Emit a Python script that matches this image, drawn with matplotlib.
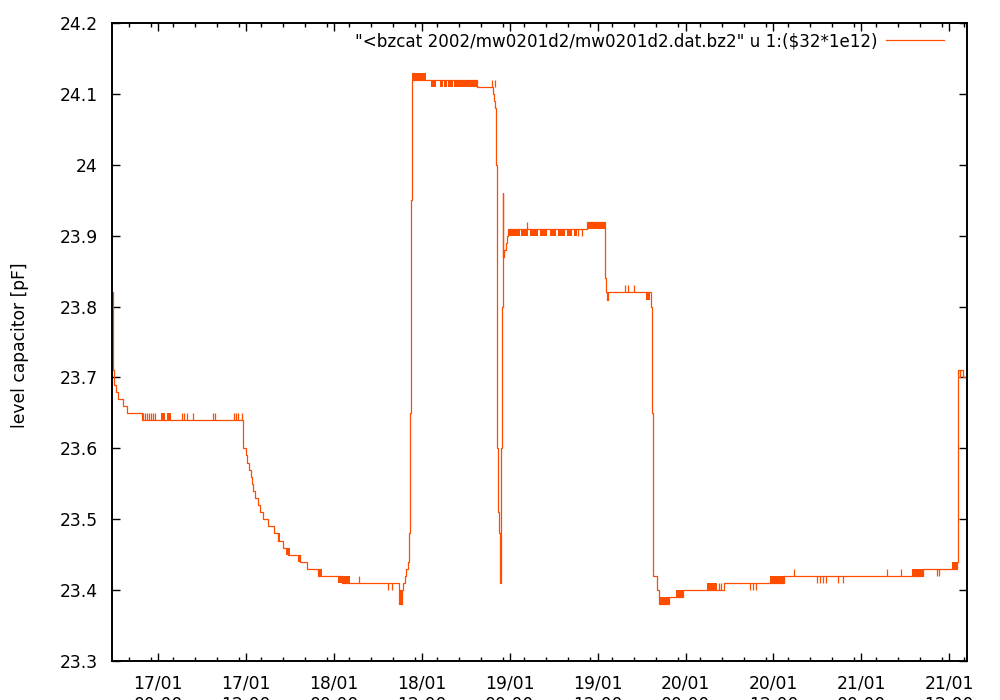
import matplotlib
matplotlib.use("Agg")
import matplotlib.pyplot as plt
import matplotlib.dates as mdates
from matplotlib.ticker import MultipleLocator, FuncFormatter
import numpy as np
import pandas as pd

# --- data: hours since 17/01/2002 00:00, level capacitor in pF ---
# main trace (value holds until the next time stamp)
trace_h = [-6.36, -6.17, -6.10, -5.78, -5.50, -4.82, -4.27, -2.23,
           11.61, 11.97, 12.11, 12.38, 12.62, 12.75, 12.97, 13.20, 13.57,
           13.89, 14.34, 14.94, 15.84, 16.38, 17.07, 17.75, 19.35, 20.26,
           21.85, 25.04,
           32.93, 33.32, 33.48, 33.62, 33.82, 34.05, 34.23, 34.33, 34.41,
           34.48, 34.54, 34.61, 34.68,
           43.52, 45.74, 45.90, 46.04, 46.15, 46.21, 46.27, 46.34, 46.52,
           46.72, 46.86, 46.96, 47.03, 47.11, 47.27, 47.41, 47.61, 47.75,
           58.53, 61.06, 61.13, 61.31, 61.44,
           67.21, 67.37, 67.44, 67.51, 67.59, 68.09, 68.41, 69.73, 71.64,
           77.24, 85.43, 104.41,
           109.12, 109.16, 109.20, 109.25, 109.46, 109.53, 109.81, 110.38]
trace_pf = [23.82, 23.71, 23.69, 23.68, 23.67, 23.66, 23.65, 23.64,
            23.60, 23.59, 23.58, 23.57, 23.56, 23.55, 23.54, 23.53, 23.52,
            23.51, 23.50, 23.49, 23.48, 23.47, 23.46, 23.45, 23.44, 23.43,
            23.42, 23.41,
            23.38, 23.40, 23.41, 23.42, 23.43, 23.44, 23.48, 23.55, 23.65,
            23.80, 23.95, 24.05, 24.12,
            24.11, 24.10, 24.09, 24.08, 24.00, 23.80, 23.60, 23.51, 23.48,
            23.41, 23.60, 23.80, 23.96, 23.87, 23.88, 23.89, 23.90, 23.91,
            23.92, 23.84, 23.82, 23.81, 23.82,
            23.80, 23.74, 23.65, 23.55, 23.42, 23.40, 23.38, 23.39, 23.40,
            23.41, 23.42, 23.43,
            23.44, 23.50, 23.60, 23.71, 23.70, 23.71, 23.70, 23.70]

# dense flicker between two adjacent levels
block_start = [0.37, 1.19, 16.30, 17.50, 19.07, 21.81, 24.54, 33.00,
               34.71, 37.24, 38.46, 39.05, 39.51, 40.42,
               47.75, 49.52, 50.75, 52.12, 53.48, 54.58, 55.80, 56.76,
               58.53, 66.59, 68.41, 70.69, 74.92, 83.52, 102.91, 108.37]
block_end = [0.91, 1.73, 16.62, 17.98, 19.42, 22.35, 26.17, 33.32,
             36.55, 37.92, 38.87, 39.38, 40.28, 43.47,
             49.39, 50.48, 51.86, 53.07, 54.30, 55.53, 56.49, 57.17,
             61.06, 67.14, 69.73, 71.64, 76.29, 85.43, 104.41, 109.12]
block_low = [23.64, 23.64, 23.47, 23.45, 23.44, 23.42, 23.41, 23.38,
             24.12, 24.11, 24.11, 24.11, 24.11, 24.11,
             23.90, 23.90, 23.90, 23.90, 23.90, 23.90, 23.90, 23.90,
             23.91, 23.81, 23.38, 23.39, 23.40, 23.41, 23.42, 23.43]
block_high = [23.65, 23.65, 23.48, 23.46, 23.45, 23.43, 23.42, 23.40,
              24.13, 24.12, 24.12, 24.12, 24.12, 24.12,
              23.91, 23.91, 23.91, 23.91, 23.91, 23.91, 23.91, 23.91,
              23.92, 23.82, 23.39, 23.40, 23.41, 23.42, 23.43, 23.44]

# single glitches
spike_h = [-2.09, -1.82, -1.54, -1.27, -1.00, -0.72, -0.45,
           3.24, 3.51, 3.92, 4.74, 7.47, 7.74, 10.34, 10.61, 10.88, 11.43,
           27.40, 31.36, 31.91, 45.56, 45.97, 50.35, 57.37, 57.86,
           63.72, 64.17, 65.01, 76.56, 76.90, 80.81, 81.22, 81.61,
           86.83, 89.94, 90.35, 90.76, 91.17, 92.87, 93.49, 99.50, 101.41,
           106.32, 106.59]
spike_base = [23.64] * 17 + [23.41, 23.41, 23.41, 24.11, 24.11, 23.91,
                             23.91, 23.91, 23.82, 23.82, 23.82, 23.40,
                             23.40, 23.41, 23.41, 23.41] + [23.42] * 9 + [23.43, 23.43]
spike_tip = [23.65] * 17 + [23.42, 23.40, 23.40, 24.12, 24.12, 23.92,
                            23.90, 23.90, 23.83, 23.83, 23.83, 23.41,
                            23.41, 23.40, 23.40, 23.40,
                            23.43, 23.41, 23.41, 23.41, 23.41, 23.41,
                            23.41, 23.43, 23.43, 23.42, 23.42]

x_start_h, x_end_h = -6.36, 110.38
LABEL = '"<bzcat 2002/mw0201d2/mw0201d2.dat.bz2" u 1:($32*1e12)'
COLOR = "#ff4d00"

plt.rcParams["font.family"] = ["DejaVu Sans"]
plt.rcParams["font.size"] = 12.3

t0 = mdates.date2num(pd.Timestamp("2002-01-17"))


def to_days(hours):
    return t0 + np.asarray(hours, dtype=float) / 24.0


fig = plt.figure(figsize=(10, 7), dpi=100)
ax = fig.add_axes([0.1117, 0.0557, 0.855, 0.9113])

ax.plot(to_days(trace_h), trace_pf, drawstyle="steps-post",
        color=COLOR, lw=0.9, label=LABEL)
bs = to_days(block_start)
be = to_days(block_end)
ax.bar(bs, np.subtract(block_high, block_low), width=be - bs,
       bottom=block_low, align="edge", color=COLOR, linewidth=0)
ax.vlines(to_days(spike_h), spike_base, spike_tip, color=COLOR, lw=0.9)

ax.set_xlim(to_days(x_start_h), to_days(x_end_h))
ax.set_ylim(23.3, 24.2)

ax.xaxis.set_major_locator(mdates.HourLocator(byhour=[0, 12]))
ax.xaxis.set_minor_locator(mdates.HourLocator(interval=3))
ax.xaxis.set_major_formatter(mdates.DateFormatter("%d/%m\n%H:%M"))
ax.yaxis.set_major_locator(MultipleLocator(0.1))
ax.yaxis.set_major_formatter(FuncFormatter(lambda v, p: f"{round(v, 2):g}"))

ax.tick_params(which="both", direction="in", top=True, right=True, width=1.0)
ax.tick_params(which="major", length=6)
ax.tick_params(which="minor", length=3)
ax.tick_params(axis="x", which="major", pad=10)
ax.tick_params(axis="y", which="major", pad=10)
for s in ax.spines.values():
    s.set_linewidth(1.4)

fig.text(0.020, 0.507, "level capacitor [pF]", rotation=90,
         ha="center", va="center")

ax.legend(loc="center right", bbox_to_anchor=(0.9735, 0.9718),
          frameon=False, markerfirst=False, handlelength=3.45,
          handletextpad=0.54, borderpad=0, borderaxespad=0, fontsize=12.05)

fig.savefig("out.png", dpi=100)
plt.close(fig)
